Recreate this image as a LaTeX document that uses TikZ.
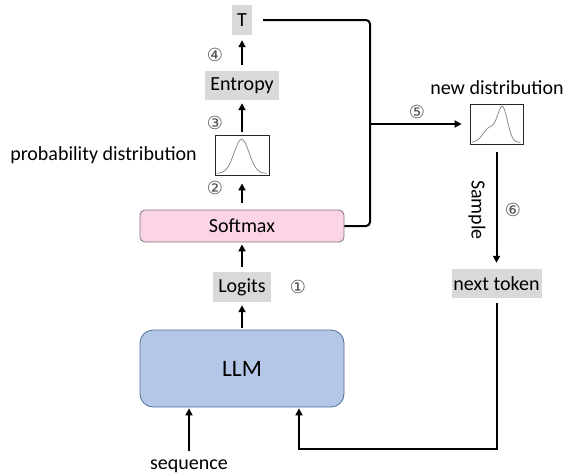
\documentclass[tikz,border=0pt]{standalone}
\usepackage{fontspec}
\setmainfont{Carlito}
\newfontfamily\circfont{DejaVu Sans}
\usetikzlibrary{arrows.meta}
\definecolor{graybox}{HTML}{D9D9D9}
\definecolor{pinkfill}{HTML}{FBD5E6}
\definecolor{pinkdraw}{HTML}{7F6F86}
\definecolor{llmfill}{HTML}{B4C7E7}
\definecolor{llmdraw}{HTML}{4F6E9A}
\definecolor{numcol}{HTML}{505050}
\definecolor{curvecol}{HTML}{808080}
\begin{document}
\begin{tikzpicture}[x=1pt,y=-1pt,
  txt/.style={font=\fontsize{20}{22}\selectfont, inner sep=0pt},
  graynode/.style={txt, fill=graybox, minimum height=30pt},
  distbox/.style={draw=black!85, line width=0.8pt, minimum width=54pt, minimum height=40pt, inner sep=0pt},
  arr/.style={line width=2pt, -{Triangle[width=7pt,length=7pt]}},
  conn/.style={line width=2pt},
  num/.style={font=\circfont\fontsize{18}{18}\selectfont, text=numcol, inner sep=0pt},
]
\useasboundingbox (0,0) rectangle (570,474);

% nodes
\node[graynode, minimum width=20pt] (T) at (242,20) {T};
\node[graynode, minimum width=74pt, minimum height=29pt] (ent) at (242,85.5) {Entropy};
\node[distbox] (pd) at (242,155) {};
\node[txt, anchor=east] (pdl) at (197,155) {probability distribution};
\node[txt, draw=pinkdraw, fill=pinkfill, line width=0.8pt, rounded corners=5pt,
      minimum width=204pt, minimum height=32pt] (sm) at (242,226) {Softmax};
\node[graynode, minimum width=58pt] (lg) at (242,287) {Logits};
\node[draw=llmdraw, fill=llmfill, line width=0.8pt, rounded corners=13pt,
      minimum width=204pt, minimum height=77pt, inner sep=0pt,
      font=\fontsize{23.5}{25}\selectfont] (llm) at (242,368.5) {LLM};
\node[txt] (seq) at (189,466) {sequence};
\node[distbox, minimum width=53pt] (nd) at (496.5,124) {};
\node[txt] (ndl) at (497,88) {new distribution};
\node[graynode, minimum width=90pt, minimum height=29pt] (nt) at (496.5,283.5) {next token};
\node[txt, rotate=-90] (smp) at (477,210) {Sample};

% number labels
\node[num] (n4) at (215,55) {④};
\node[num] (n3) at (215,123) {③};
\node[num] (n2) at (215,188) {②};
\node[num] (n1) at (298,287) {①};
\node[num] (n5) at (417,112) {⑤};
\node[num] (n6) at (513,210) {⑥};

% curves
\begin{scope}[shift={(pd.south west)}, y=1pt]
  \draw[curvecol, line width=0.7pt, domain=2:52, samples=80, smooth]
    plot (\x, {2+34*exp(-((\x-27)/7.5)^2/2)});
\end{scope}
\begin{scope}[shift={(nd.south west)}, y=1pt]
  \draw[curvecol, line width=0.7pt, domain=2:51, samples=90, smooth]
    plot (\x, {2+34*(exp(-((\x-33)/5)^2/2)+0.42*exp(-((\x-20)/6.5)^2/2))});
\end{scope}

% junction coordinates
\coordinate (jv) at (370,124);
\coordinate (fb) at (496.5,449);

% connectors
\draw[arr, shorten <=6pt, shorten >=5pt] (ent.north) -- (T.south);
\draw[arr, shorten <=3pt, shorten >=3pt] (pd.north) -- (ent.south);
\draw[arr, shorten <=7pt, shorten >=8pt] (sm.north) -- (pd.south);
\draw[arr, shorten <=5pt, shorten >=2pt] (lg.north) -- (sm.south);
\draw[arr, shorten <=2pt, shorten >=3pt] (llm.north) -- (lg.south);
\draw[conn, rounded corners=4pt] ([xshift=11pt]T.east) -| (jv) |- (sm.east);
\draw[arr, shorten >=8pt] (jv) -- (nd.west);
\draw[arr, shorten <=8pt, shorten >=6pt] (nd.south) -- (nt.north);
\draw[arr, shorten <=5pt, shorten >=1pt] (nt.south) -- (fb) -| ([xshift=57pt]llm.south);
\draw[arr, shorten <=8pt, shorten >=1pt] (seq.north) -- (seq.north |- llm.south);
\end{tikzpicture}
\end{document}
